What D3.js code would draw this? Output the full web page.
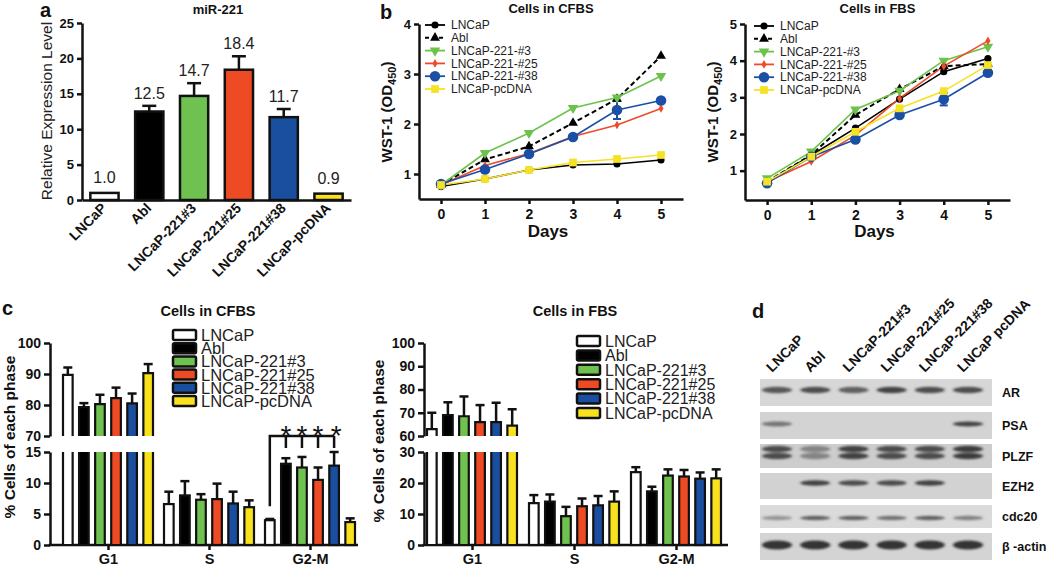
<!DOCTYPE html>
<html><head><meta charset="utf-8">
<script src="https://cdn.jsdelivr.net/npm/d3@7"></script>
<style>body{margin:0;background:#fff}svg{display:block}</style>
</head><body>
<svg id="c" width="1050" height="569"></svg>
<script>
// ================= DATA =================
// Panel a: miR-221 expression
const miCats = ["LNCaP","Abl","LNCaP-221#3","LNCaP-221#25","LNCaP-221#38","LNCaP-pcDNA"];
const miValues = [1.0, 12.5, 14.7, 18.4, 11.7, 0.9];
const miErrors = [0, 0.8, 1.8, 1.9, 1.15, 0];
const miLabels = ["1.0","12.5","14.7","18.4","11.7","0.9"];
const miTicks = [0,5,10,15,20,25];

// Panel b: WST-1 growth curves
const wstSeries = ["LNCaP","Abl","LNCaP-221-#3","LNCaP-221-#25","LNCaP-221-#38","LNCaP-pcDNA"];
const days = [0,1,2,3,4,5];
const cfbsLNCaP = [0.75,0.90,1.08,1.18,1.20,1.28];
const cfbsAbl   = [0.78,1.29,1.55,2.02,2.50,3.36];
const cfbs3     = [0.78,1.42,1.82,2.32,2.53,2.96];
const cfbs25    = [0.78,1.17,1.41,1.75,1.98,2.31];
const cfbs38    = [0.80,1.09,1.40,1.74,2.28,2.47];
const cfbsPc    = [0.78,0.90,1.08,1.23,1.30,1.38];
const cfbs38Err = [0,0,0,0,0.18,0];
const fbsLNCaP = [0.68,1.42,2.16,2.95,3.70,4.06];
const fbsAbl   = [0.70,1.43,2.52,3.22,3.85,3.91];
const fbs3     = [0.79,1.52,2.67,3.18,4.00,4.38];
const fbs25    = [0.70,1.25,1.97,2.97,3.85,4.54];
const fbs38    = [0.66,1.38,1.85,2.52,2.95,3.67];
const fbsPc    = [0.70,1.38,2.06,2.70,3.17,3.88];
const fbs38Err = [0,0,0,0,0.17,0];
const wstTicksCFBS = [1,2,3,4];
const wstTicksFBS = [1,2,3,4,5];

// Panel c: cell cycle phases (G1, S, G2-M)
const phases = ["G1","S","G2-M"];
const ccSeries = ["LNCaP","Abl","LNCaP-221#3","LNCaP-221#25","LNCaP-221#38","LNCaP-pcDNA"];
const ccCfbsLNCaP = [89.7, 6.6, 4.0],  ccCfbsLNCaPErr = [2.4, 2.0, 0.2];
const ccCfbsAbl   = [79.3, 8.0, 13.1], ccCfbsAblErr   = [1.3, 2.3, 0.9];
const ccCfbs3     = [80.3, 7.3, 12.5], ccCfbs3Err     = [3.0, 0.9, 1.7];
const ccCfbs25    = [82.2, 7.4, 10.5], ccCfbs25Err    = [3.4, 2.5, 2.0];
const ccCfbs38    = [80.5, 6.7, 12.8], ccCfbs38Err    = [3.2, 1.9, 2.2];
const ccCfbsPc    = [90.3, 6.1, 3.7],  ccCfbsPcErr    = [2.9, 1.1, 0.6];
const ccFbsLNCaP = [63.0, 13.5, 23.5], ccFbsLNCaPErr = [7.0, 2.6, 1.6];
const ccFbsAbl   = [69.0, 14.0, 17.3], ccFbsAblErr   = [5.5, 2.3, 1.5];
const ccFbs3     = [68.5, 9.3, 22.4],  ccFbs3Err     = [8.5, 3.0, 2.0];
const ccFbs25    = [66.0, 12.5, 22.1], ccFbs25Err    = [7.3, 2.5, 2.1];
const ccFbs38    = [66.0, 12.8, 21.4], ccFbs38Err    = [8.3, 3.0, 2.0];
const ccFbsPc    = [64.5, 14.0, 21.5], ccFbsPcErr    = [7.0, 3.3, 2.9];
const ccCfbsHiTicks = [70,80,90,100], ccCfbsLoTicks = [0,5,10,15];
const ccFbsHiTicks = [60,70,80,90,100], ccFbsLoTicks = [0,10,20,30];

// Panel d: western blot
const blotLanes = ["LNCaP","Abl","LNCaP-221#3","LNCaP-221#25","LNCaP-221#38","LNCaP pcDNA"];
const blotProteins = ["AR","PSA","PLZF","EZH2","cdc20","\u03b2 -actin"];
const blotAR    = [0.75,0.80,0.70,0.85,0.80,0.80];
const blotPSA   = [0.55,0,0,0,0,0.85];
const blotPLZF  = [0.80,0.45,0.85,0.80,0.80,0.90];
const blotEZH2  = [0,0.85,0.80,0.80,0.85,0];
const blotCdc20 = [0.40,0.70,0.70,0.60,0.70,0.50];
const blotActin = [0.95,0.95,0.95,0.95,0.95,0.95];

// ================= STYLE =================
const FONT = "'Liberation Sans', Arial, Helvetica, sans-serif";
const INK = "#111";
const barColors = ["#ffffff","#000000","#6fc24f","#ee4a24","#1a4f9f","#f8e21e"];
const lineColors = ["#000000","#000000","#6cc24a","#f04a2a","#1b4fa5","#f6e224"];

const svg = d3.select("#c").attr("font-family", FONT);
svg.append("rect").attr("width",1050).attr("height",569).attr("fill","#fff");

function styleAxis(g, fs, sw){
  g.attr("font-family", FONT);
  g.select(".domain").attr("stroke", INK).attr("stroke-width", sw);
  g.selectAll(".tick line").attr("stroke", INK).attr("stroke-width", sw);
  g.selectAll(".tick text").attr("font-size", fs).attr("font-weight","bold").attr("fill", INK);
}
function letter(t, x, y){
  svg.append("text").attr("x",x).attr("y",y).attr("font-size",20).attr("font-weight","bold").attr("fill",INK).text(t);
}

// ================= PANEL A =================
(function(){
  const g = svg.append("g");
  const y = d3.scaleLinear().domain([0,25]).range([200,23]);
  const x = d3.scaleBand().domain(miCats).range([82,351]).paddingInner(0.37).paddingOuter(0.186);
  const ay = g.append("g").attr("transform","translate(82,0)")
    .call(d3.axisLeft(y).tickValues(miTicks).tickSize(5).tickSizeOuter(0).tickPadding(3));
  styleAxis(ay, 13, 2.5);
  const ax = g.append("g").attr("transform","translate(0,200)")
    .call(d3.axisBottom(x).tickSize(0).tickSizeOuter(0).tickFormat(""));
  styleAxis(ax, 13, 2.5);
  miCats.forEach((c,i)=>{
    const cx = x(c)+x.bandwidth()/2;
    if(miErrors[i]>0){
      g.append("line").attr("x1",cx).attr("x2",cx).attr("y1",y(miValues[i])).attr("y2",y(miValues[i]+miErrors[i])).attr("stroke",INK).attr("stroke-width",2.5);
      g.append("line").attr("x1",cx-7).attr("x2",cx+7).attr("y1",y(miValues[i]+miErrors[i])).attr("y2",y(miValues[i]+miErrors[i])).attr("stroke",INK).attr("stroke-width",2.5);
    }
  });
  g.selectAll("rect.bar").data(miCats).join("rect").attr("class","bar")
    .attr("x",c=>x(c)).attr("width",x.bandwidth())
    .attr("y",(c,i)=>y(miValues[i])).attr("height",(c,i)=>y(0)-y(miValues[i]))
    .attr("fill",(c,i)=>barColors[i]).attr("stroke",INK).attr("stroke-width",2.5);
  g.selectAll("text.val").data(miCats).join("text").attr("class","val")
    .attr("x",c=>x(c)+x.bandwidth()/2)
    .attr("y",(c,i)=>y(miValues[i]+miErrors[i]) - (miErrors[i]>0?7:10))
    .attr("text-anchor","middle").attr("font-size",16).attr("fill","#222")
    .text((c,i)=>miLabels[i]);
  g.selectAll("text.xl").data(miCats).join("text").attr("class","xl")
    .attr("transform",c=>`translate(${x(c)+x.bandwidth()/2+3},209) rotate(-45)`)
    .attr("text-anchor","end").attr("font-size",14).attr("font-weight","bold").attr("fill",INK)
    .text(c=>c);
  g.append("text").attr("transform","translate(52,111) rotate(-90)").attr("text-anchor","middle")
    .attr("font-size",15.5).attr("fill","#222").text("Relative Expression Level");
  g.append("text").attr("x",218).attr("y",14).attr("text-anchor","middle").attr("font-size",13).attr("font-weight","bold").attr("fill",INK).text("miR-221");
  letter("a", 40, 17);
})();

// ================= PANEL B =================
function drawWST(cfg){
  const g = svg.append("g");
  const x = d3.scaleLinear().domain([-0.5,5.5]).range(cfg.xRange);
  const y = d3.scaleLinear().domain(cfg.yDom).range([cfg.yBottom,24]);
  const ay = g.append("g").attr("transform",`translate(${cfg.xRange[0]},0)`)
    .call(d3.axisLeft(y).tickValues(cfg.yTicks).tickFormat(d3.format("d")).tickSize(5).tickSizeOuter(0).tickPadding(3));
  styleAxis(ay, 13, 2.5);
  const ax = g.append("g").attr("transform",`translate(0,${cfg.yBottom})`)
    .call(d3.axisBottom(x).tickValues(days).tickFormat(d3.format("d")).tickSize(5).tickSizeOuter(0).tickPadding(5));
  styleAxis(ax, 14, 2.5);
  const symbols = [
    d3.symbol().type(d3.symbolCircle).size(40),
    d3.symbol().type(d3.symbolTriangle).size(42),
    d3.symbol().type(d3.symbolTriangle).size(48),
    d3.symbol().type(d3.symbolDiamond).size(22),
    d3.symbol().type(d3.symbolCircle).size(88),
    d3.symbol().type(d3.symbolSquare).size(60)
  ];
  const rot = [0,0,180,0,0,0];
  const line = d3.line().x((d,i)=>x(days[i])).y(d=>y(d));
  cfg.series.forEach((vals,k)=>{
    g.append("path").attr("d",line(vals)).attr("fill","none")
      .attr("stroke",lineColors[k]).attr("stroke-width",k===1?2:1.6)
      .attr("stroke-dasharray",k===1?"5,3":null);
  });
  cfg.err.forEach((e,i)=>{
    if(e>0){
      const v = cfg.series[4][i], cx = x(days[i]);
      g.append("line").attr("x1",cx).attr("x2",cx).attr("y1",y(v-e)).attr("y2",y(v+e)).attr("stroke",lineColors[4]).attr("stroke-width",2);
      [v-e,v+e].forEach(t=>g.append("line").attr("x1",cx-4).attr("x2",cx+4).attr("y1",y(t)).attr("y2",y(t)).attr("stroke",lineColors[4]).attr("stroke-width",2));
    }
  });
  cfg.series.forEach((vals,k)=>{
    g.selectAll(null).data(vals).join("path")
      .attr("d",symbols[k]())
      .attr("transform",(d,i)=>`translate(${x(days[i])},${y(d)}) rotate(${rot[k]})`)
      .attr("fill",lineColors[k]);
  });
  wstSeries.forEach((s,k)=>{
    const ry = cfg.legY + k*12.8;
    g.append("line").attr("x1",cfg.legX).attr("x2",cfg.legX+20).attr("y1",ry).attr("y2",ry)
      .attr("stroke",lineColors[k]).attr("stroke-width",k===1?2:1.8).attr("stroke-dasharray",k===1?"4,3":null);
    g.append("path").attr("d",symbols[k]()).attr("transform",`translate(${cfg.legX+10},${ry}) rotate(${rot[k]})`).attr("fill",lineColors[k]);
    g.append("text").attr("x",cfg.legX+26).attr("y",ry).attr("dy","0.35em").attr("font-size",12).attr("fill","#222").text(s);
  });
  const mid = (cfg.xRange[0]+cfg.xRange[1])/2;
  g.append("text").attr("x",mid).attr("y",13).attr("text-anchor","middle").attr("font-size",13).attr("font-weight","bold").attr("fill",INK).text(cfg.title);
  g.append("text").attr("x",mid-3).attr("y",237).attr("text-anchor","middle").attr("font-size",17).attr("font-weight","bold").attr("fill",INK).text("Days");
  const yl = g.append("text").attr("transform",`translate(${cfg.yLabX},112) rotate(-90)`).attr("text-anchor","middle")
    .attr("font-size",15).attr("font-weight","bold").attr("fill",INK);
  yl.append("tspan").text("WST-1 (OD");
  yl.append("tspan").attr("font-size",11).attr("dy",4).text("450");
  yl.append("tspan").attr("dy",-4).text(")");
}
drawWST({xRange:[419,683], yDom:[0.5,4], yBottom:199, yTicks:wstTicksCFBS,
  series:[cfbsLNCaP,cfbsAbl,cfbs3,cfbs25,cfbs38,cfbsPc], err:cfbs38Err,
  legX:425, legY:25, title:"Cells in CFBS", yLabX:392});
drawWST({xRange:[745,1010], yDom:[0.2,5], yBottom:200, yTicks:wstTicksFBS,
  series:[fbsLNCaP,fbsAbl,fbs3,fbs25,fbs38,fbsPc], err:fbs38Err,
  legX:754, legY:26, title:"Cells in FBS", yLabX:718});
letter("b", 380, 19);

// ================= PANEL C =================
function drawCC(cfg){
  const g = svg.append("g");
  const yLo = d3.scaleLinear().domain(cfg.loDom).range([545,452]);
  const yHi = d3.scaleLinear().domain(cfg.hiDom).range([436,343]);
  const xG = d3.scalePoint().domain(phases).range(cfg.gRange);
  const xI = d3.scaleBand().domain(ccSeries).range([-45,45]).paddingInner(0.4);
  const bw = xI.bandwidth();
  const a1 = g.append("g").attr("transform",`translate(${cfg.axX},0)`)
    .call(d3.axisLeft(yLo).tickValues(cfg.loTicks).tickSize(6).tickSizeOuter(0).tickPadding(3));
  styleAxis(a1, 14, 2.5);
  const a2 = g.append("g").attr("transform",`translate(${cfg.axX},0)`)
    .call(d3.axisLeft(yHi).tickValues(cfg.hiTicks).tickSize(6).tickSizeOuter(0).tickPadding(3));
  styleAxis(a2, 14, 2.5);
  g.append("line").attr("x1",cfg.axX-1.25).attr("x2",cfg.axEnd).attr("y1",545).attr("y2",545).attr("stroke",INK).attr("stroke-width",2.5);
  const ax = g.append("g").attr("transform","translate(0,545)")
    .call(d3.axisBottom(xG).tickSize(5).tickSizeOuter(0).tickPadding(3));
  ax.select(".domain").remove();
  styleAxis(ax, 14.5, 2.5);
  ax.selectAll(".tick text").attr("dy","0.74em");
  const loMax = cfg.loDom[1], hiMin = cfg.hiDom[0];
  function errBar(cx, yTop, yErr){
    g.append("line").attr("x1",cx).attr("x2",cx).attr("y1",yTop).attr("y2",yErr).attr("stroke",INK).attr("stroke-width",2.5);
    g.append("line").attr("x1",cx-4.5).attr("x2",cx+4.5).attr("y1",yErr).attr("y2",yErr).attr("stroke",INK).attr("stroke-width",2.5);
  }
  ccSeries.forEach((s,k)=>{
    phases.forEach((p,j)=>{
      const v = cfg.vals[k][j], e = cfg.errs[k][j];
      const x0 = xG(p)+xI(s), cx = x0+bw/2;
      if(v > loMax){
        errBar(cx, yHi(v), yHi(v+e));
        g.append("rect").attr("x",x0).attr("y",yLo(loMax)).attr("width",bw).attr("height",yLo(0)-yLo(loMax)).attr("fill",barColors[k]);
        g.append("path").attr("d",`M${x0},${yLo(loMax)}V${yLo(0)}H${x0+bw}V${yLo(loMax)}`).attr("fill","none").attr("stroke",INK).attr("stroke-width",2.2);
        g.append("rect").attr("x",x0).attr("y",yHi(v)).attr("width",bw).attr("height",yHi(hiMin)-yHi(v)).attr("fill",barColors[k]);
        g.append("path").attr("d",`M${x0},${yHi(hiMin)}V${yHi(v)}H${x0+bw}V${yHi(hiMin)}`).attr("fill","none").attr("stroke",INK).attr("stroke-width",2.2);
      } else {
        errBar(cx, yLo(v), yLo(v+e));
        g.append("rect").attr("x",x0).attr("y",yLo(v)).attr("width",bw).attr("height",yLo(0)-yLo(v))
          .attr("fill",barColors[k]).attr("stroke",INK).attr("stroke-width",2.2);
      }
    });
  });
  ccSeries.forEach((s,k)=>{
    const ry = cfg.legY + k*cfg.legStep;
    g.append("rect").attr("x",cfg.legX).attr("y",ry-5).attr("width",23).attr("height",10).attr("rx",1.5)
      .attr("fill",barColors[k]).attr("stroke",INK).attr("stroke-width",2.5);
    g.append("text").attr("x",cfg.legX+28).attr("y",ry).attr("dy","0.36em").attr("font-size",cfg.legFs).attr("fill","#222").text(s);
  });
  g.append("text").attr("x",cfg.titleX).attr("y",316).attr("text-anchor","middle").attr("font-size",14.5).attr("font-weight","bold").attr("fill",INK).text(cfg.title);
  g.append("text").attr("transform",`translate(${cfg.yLabX},${cfg.yLabY}) rotate(-90)`).attr("text-anchor","middle")
    .attr("font-size",15.5).attr("font-weight","bold").attr("fill",INK).text("% Cells of each phase");
  if(cfg.sig){
    const p = "G2-M";
    const cxs = ccSeries.map(s=>xG(p)+xI(s)+bw/2);
    const by = yLo(loMax)-16;
    g.append("path").attr("d",`M${cxs[0]},${yLo(cfg.vals[0][2])-14}V${by}H${cxs[4]}`).attr("fill","none").attr("stroke",INK).attr("stroke-width",2.5);
    [1,2,3,4].forEach(k=>{
      g.append("line").attr("x1",cxs[k]).attr("x2",cxs[k]).attr("y1",by).attr("y2",by+12).attr("stroke",INK).attr("stroke-width",2.5);
      g.append("text").attr("x",cxs[k]+(k===4?2:0)).attr("y",by+9).attr("text-anchor","middle").attr("font-size",28).attr("fill",INK).text("*");
    });
  }
}
drawCC({loDom:[0,15], hiDom:[70,100], loTicks:ccCfbsLoTicks, hiTicks:ccCfbsHiTicks,
  gRange:[108,310], axX:50, axEnd:358,
  vals:[ccCfbsLNCaP,ccCfbsAbl,ccCfbs3,ccCfbs25,ccCfbs38,ccCfbsPc],
  errs:[ccCfbsLNCaPErr,ccCfbsAblErr,ccCfbs3Err,ccCfbs25Err,ccCfbs38Err,ccCfbsPcErr],
  legX:173, legY:335, legStep:13.2, legFs:16.5, title:"Cells in CFBS", titleX:208,
  yLabX:15, yLabY:437, sig:true});
drawCC({loDom:[0,30], hiDom:[60,100], loTicks:ccFbsLoTicks, hiTicks:ccFbsHiTicks,
  gRange:[472,676], axX:424, axEnd:728,
  vals:[ccFbsLNCaP,ccFbsAbl,ccFbs3,ccFbs25,ccFbs38,ccFbsPc],
  errs:[ccFbsLNCaPErr,ccFbsAblErr,ccFbs3Err,ccFbs25Err,ccFbs38Err,ccFbsPcErr],
  legX:577, legY:341, legStep:14.4, legFs:16, title:"Cells in FBS", titleX:575,
  yLabX:384, yLabY:441, sig:false});
letter("c", 2, 315);

// ================= PANEL D =================
(function(){
  const g = svg.append("g");
  const defs = svg.append("defs");
  const f = defs.append("filter").attr("id","blur").attr("x","-30%").attr("y","-100%").attr("width","160%").attr("height","300%");
  f.append("feGaussianBlur").attr("stdDeviation","1.4 1.0");
  const xL = d3.scalePoint().domain(blotLanes).range([777,968]);
  const rows = [blotAR,blotPSA,blotPLZF,blotEZH2,blotCdc20,blotActin];
  const stripTop = [379,412,444,473,505,533];
  const stripBot = [406,439,468,499,528,560];
  const bandY = [[390],[424],[449,456],[483],[518],[545]];
  const bandH = [3.2,2.4,3.2,2.8,2.2,4.5];
  const stripFill = ["#d7d7d7","#d3d3d3","#cdcdcd","#d2d2d2","#dadada","#d4d4d4"];
  rows.forEach((vals,r)=>{
    g.append("rect").attr("x",760).attr("y",stripTop[r]).attr("width",232).attr("height",stripBot[r]-stripTop[r]).attr("fill",stripFill[r]);
    const bg = g.append("g").attr("filter","url(#blur)");
    vals.forEach((v,i)=>{
      if(v<=0) return;
      bandY[r].forEach(by=>{
        bg.append("ellipse").attr("cx",xL(blotLanes[i])).attr("cy",by).attr("rx",15).attr("ry",bandH[r])
          .attr("fill","#2c2c2c").attr("opacity",v);
      });
    });
    g.append("text").attr("x",1002).attr("y",(stripTop[r]+stripBot[r])/2).attr("dy","0.36em")
      .attr("font-size",12.5).attr("font-weight","bold").attr("fill",INK).text(blotProteins[r]);
  });
  g.selectAll("text.lane").data(blotLanes).join("text").attr("class","lane")
    .attr("transform",d=>`translate(${xL(d)-5},373) rotate(-45)`)
    .attr("font-size",14).attr("font-weight","bold").attr("fill",INK).text(d=>d);
  letter("d", 752, 318);
})();
</script>
</body></html>
